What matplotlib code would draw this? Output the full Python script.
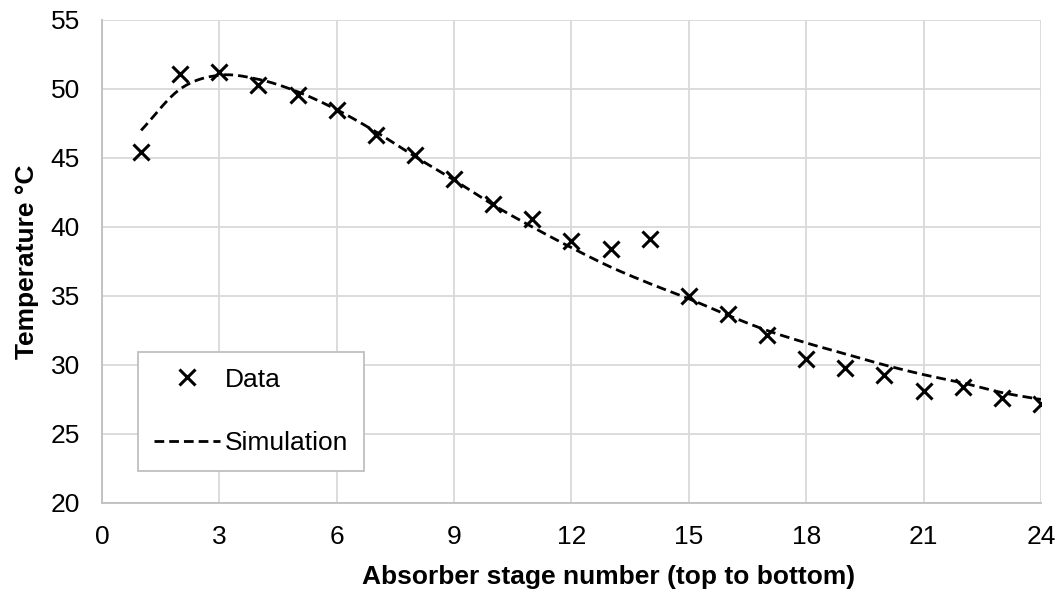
import matplotlib
matplotlib.use("Agg")
import matplotlib.pyplot as plt
import numpy as np

plt.rcParams['font.family'] = ['Liberation Sans', 'DejaVu Sans']

stage = [1, 2, 3, 4, 5, 6, 7, 8, 9, 10, 11, 12, 13, 14, 15, 16, 17, 18, 19, 20, 21, 22, 23, 24]
temp_data = [45.4, 51.1, 51.2, 50.3, 49.6, 48.5, 46.7, 45.2, 43.5, 41.7, 40.6, 39.0,
             38.4, 39.1, 35.0, 33.7, 32.2, 30.4, 29.8, 29.3, 28.1, 28.4, 27.6, 27.2]
temp_sim = [47.0, 50.0, 51.0, 50.7, 49.8, 48.5, 46.9, 45.1, 43.4, 41.6, 40.0, 38.5,
            37.1, 35.9, 34.8, 33.6, 32.5, 31.6, 30.8, 30.0, 29.3, 28.7, 28.0, 27.5]

x_ticks = [0, 3, 6, 9, 12, 15, 18, 21, 24]
y_ticks = [20, 25, 30, 35, 40, 45, 50, 55]


def smooth(xs, ys, n=20):
    # catmull-rom through the points, like excel's smoothed line
    xs = np.asarray(xs, float)
    ys = np.asarray(ys, float)
    px = np.concatenate([[2 * xs[0] - xs[1]], xs, [2 * xs[-1] - xs[-2]]])
    py = np.concatenate([[2 * ys[0] - ys[1]], ys, [2 * ys[-1] - ys[-2]]])
    t = np.linspace(0, 1, n, endpoint=False)
    ox, oy = [], []
    for i in range(1, len(px) - 2):
        for p, o in ((px, ox), (py, oy)):
            p0, p1, p2, p3 = p[i - 1], p[i], p[i + 1], p[i + 2]
            o.extend(0.5 * (2 * p1 + (-p0 + p2) * t + (2 * p0 - 5 * p1 + 4 * p2 - p3) * t ** 2
                            + (-p0 + 3 * p1 - 3 * p2 + p3) * t ** 3))
    ox.append(xs[-1])
    oy.append(ys[-1])
    return ox, oy


fs = 19

fig = plt.figure(figsize=(10.59, 5.97), dpi=100)
ax = fig.add_axes([0.0963, 0.1575, 0.8867, 0.809])

sx, sy = smooth(stage, temp_sim)
ax.plot(stage, temp_data, linestyle='none', marker='x', color='black',
        markersize=11.5, markeredgewidth=2.2, label='Data', zorder=3)
ax.plot(sx, sy, color='black', linestyle=(0, (3.5, 1.8)), linewidth=2.0,
        label='Simulation', zorder=2)

ax.set_xlim(0, 24)
ax.set_ylim(20, 55)
ax.set_xticks(x_ticks)
ax.set_yticks(y_ticks)
ax.grid(True, color='#d9d9d9', linewidth=1.3)
ax.set_axisbelow(True)
for s in ['top', 'right']:
    ax.spines[s].set_visible(False)
for s in ['left', 'bottom']:
    ax.spines[s].set_color('#bfbfbf')
    ax.spines[s].set_linewidth(1.3)
ax.tick_params(length=0, labelsize=fs)
ax.tick_params(axis='x', pad=16)
ax.tick_params(axis='y', pad=16)

ax.set_xlabel('Absorber stage number (top to bottom)', fontsize=fs, fontweight='bold')
ax.set_ylabel('Temperature °C', fontsize=fs, fontweight='bold')
ax.xaxis.set_label_coords(0.539, -0.128)
ax.yaxis.set_label_coords(-0.067, 0.5)

leg = ax.legend(loc='lower left', bbox_to_anchor=(0.0383, 0.0663), fontsize=fs,
                frameon=True, fancybox=False, edgecolor='#bfbfbf', framealpha=1,
                labelspacing=1.5, handlelength=2.5, handletextpad=0.2,
                borderpad=0.6, borderaxespad=0)
leg.get_frame().set_linewidth(1.3)

fig.savefig('out.png', dpi=100)
